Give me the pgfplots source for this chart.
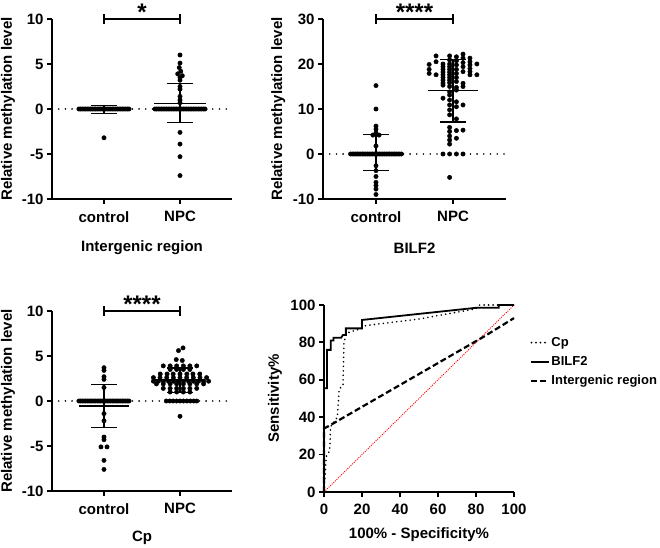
\documentclass[border=0pt]{standalone}
\usepackage{fontspec}
\setmainfont{Liberation Sans}
\usepackage{pgfplots}
\pgfplotsset{compat=1.18}
\newcommand\lbl{\bfseries\fontsize{15bp}{17bp}\selectfont}
\newcommand\leg{\bfseries\fontsize{13bp}{15bp}\selectfont}
\newcommand\stars{\bfseries\fontsize{24bp}{26bp}\selectfont}
\pgfplotsset{
 gpbase/.style={scale only axis, axis lines=left, axis line style={-, line width=1.8bp},
   every tick/.style={black, line width=1.8bp}, major tick length=5bp, tick align=outside,
   clip=false, /pgf/number format/assume math mode=true,
   tick label style={font=\lbl}, label style={font=\lbl}},
 dotplot/.style={gpbase, width=180bp, height=180bp, xmin=-0.684, xmax=1.684,
   xtick={0,1}, xticklabels={control,NPC}, ylabel={Relative methylation level},
   xticklabel style={yshift=-4bp},
   every axis y label/.style={at={(axis description cs:-0.244,0.5)}, rotate=90, anchor=center, font=\lbl},
   every axis x label/.style={at={(axis description cs:0.5,-0.272)}, anchor=center, font=\lbl}},
 dots/.style={only marks, mark=*, mark size=2.2bp, black, mark options={fill=black}},
 stat/.style={black, line width=1.6bp, forget plot},
 zero/.style={black, line width=1.8bp, dash pattern=on 0bp off 6.7bp, line cap=round, forget plot},
 brk/.style={black, line width=1.8bp, forget plot},
}
\begin{document}
\begin{tikzpicture}
\useasboundingbox (0,0) rectangle (660bp,548bp);
% ---------------- Panel 1: Intergenic region
\begin{axis}[dotplot, at={(52bp,349bp)}, anchor=south west, ymin=-10, ymax=10,
  ytick={-10,-5,0,5,10}, xlabel={Intergenic region}]
\addplot[zero] coordinates {(-0.684,0) (1.684,0)};
\addplot[dots] coordinates {
(-0.33,0) (-0.308,0) (-0.286,0) (-0.264,0) (-0.242,0) (-0.22,0) (-0.198,0) (-0.176,0) (-0.154,0) (-0.132,0) (-0.11,0) (-0.088,0) (-0.066,0) (-0.044,0) (-0.022,0) (0,0)
(0.022,0) (0.044,0) (0.066,0) (0.088,0) (0.11,0) (0.132,0) (0.154,0) (0.176,0) (0.198,0) (0.22,0) (0.242,0) (0.264,0) (0.286,0) (0.308,0) (0.33,0)
(0,-3.2)};
\addplot[dots] coordinates {
(0.67,0) (0.692,0) (0.714,0) (0.736,0) (0.758,0) (0.78,0) (0.802,0) (0.824,0) (0.846,0) (0.868,0) (0.89,0) (0.912,0) (0.934,0) (0.956,0) (0.978,0) (1,0)
(1.022,0) (1.044,0) (1.066,0) (1.088,0) (1.11,0) (1.132,0) (1.154,0) (1.176,0) (1.198,0) (1.22,0) (1.242,0) (1.264,0) (1.286,0) (1.308,0) (1.33,0)
(1,6.0) (1,5.1) (0.99,4.6) (1.01,4.2) (0.97,3.9) (1.03,3.7) (1,3.5) (1,3.2)
(1,2.5) (1,2.2) (1,1.4) (1,1.0) (1,0.7) (1,-2.6) (1,-3.9) (1,-5.3) (1,-7.4)};
% mean / SD
\addplot[stat] coordinates {(-0.33,0) (0.33,0)};
\addplot[stat] coordinates {(-0.165,0.4) (0.165,0.4)};
\addplot[stat] coordinates {(-0.165,-0.5) (0.165,-0.5)};
\addplot[stat] coordinates {(0,-0.5) (0,0.4)};
\addplot[stat] coordinates {(0.66,0.63) (1.34,0.63)};
\addplot[stat] coordinates {(0.825,2.85) (1.175,2.85)};
\addplot[stat] coordinates {(0.825,-1.5) (1.175,-1.5)};
\addplot[stat] coordinates {(1,-1.5) (1,2.85)};
% bracket
\addplot[brk] coordinates {(0,10) (1,10)};
\addplot[brk] coordinates {(0,9.45) (0,10.55)};
\addplot[brk] coordinates {(1,9.45) (1,10.55)};
\node[font=\stars, anchor=base, yshift=-1.5bp] at (axis cs:0.5,10) {*};
\end{axis}
% ---------------- Panel 2: BILF2
\begin{axis}[dotplot, at={(323bp,349bp)}, anchor=south west, width=183bp,
  xmin=-0.688, xmax=1.688, ymin=-10, ymax=30,
  ytick={-10,0,10,20,30}, xlabel={BILF2}]
\addplot[zero] coordinates {(-0.688,0) (1.688,0)};
\addplot[dots] coordinates {
(-0.33,0) (-0.308,0) (-0.286,0) (-0.264,0) (-0.242,0) (-0.22,0) (-0.198,0) (-0.176,0) (-0.154,0) (-0.132,0) (-0.11,0) (-0.088,0) (-0.066,0) (-0.044,0) (-0.022,0) (0,0)
(0.022,0) (0.044,0) (0.066,0) (0.088,0) (0.11,0) (0.132,0) (0.154,0) (0.176,0) (0.198,0) (0.22,0) (0.242,0) (0.264,0) (0.286,0) (0.308,0) (0.33,0)
(0,15.2) (0,10.0) (0,6.2) (0,5.5) (0,4.7) (-0.04,4.2) (0.04,4.2) (0,1.8)
(0,-2.6) (0,-3.7) (0,-5.0) (0,-6.3) (0,-7.0) (0,-7.8) (0,-9.0)};
\addplot[dots] coordinates {
(0.69,19.9) (0.69,18.8) (0.69,17.9)
(0.78,21.8) (0.78,20.5) (0.78,17.6)
(0.87,20.0) (0.87,19.4) (0.87,18.8) (0.87,18.2) (0.87,17.6) (0.87,17.0) (0.87,16.4) (0.87,15.8) (0.87,15.3) (0.87,12.4) (0.87,0)
(0.956,21.8) (0.956,20.9) (0.956,20.0) (0.956,19.4) (0.956,18.8) (0.956,18.2) (0.956,17.6) (0.956,17.0) (0.956,16.4) (0.956,15.8) (0.956,15.0) (0.956,13.8) (0.956,13.1) (0.956,12.0) (0.956,10.9) (0.956,9.8) (0.956,8.7) (0.956,5.9) (0.956,5.0) (0.956,4.0) (0.956,3.1) (0.956,2.2) (0.956,0) (0.956,-5.2)
(1.044,21.6) (1.044,20.7) (1.044,19.8) (1.044,18.8) (1.044,17.9) (1.044,17.0) (1.044,16.1) (1.044,14.8) (1.044,14.2) (1.044,11.6) (1.044,10.5) (1.044,7.8) (1.044,5.2) (1.044,3.5) (1.044,0)
(1.13,22.2) (1.13,21.3) (1.13,20.3) (1.13,19.4) (1.13,18.3) (1.13,15.7) (1.13,15.0) (1.13,10.9) (1.13,5.3) (1.13,0)
(1.22,21.3) (1.22,20.5) (1.22,19.8) (1.22,19.0) (1.22,18.3) (1.22,17.6)
(1.31,20.0) (1.31,17.6)};
\addplot[stat] coordinates {(-0.33,0.3) (0.33,0.3)};
\addplot[stat] coordinates {(-0.17,4.3) (0.17,4.3)};
\addplot[stat] coordinates {(-0.17,-3.7) (0.17,-3.7)};
\addplot[stat] coordinates {(0,-3.7) (0,4.3)};
\addplot[stat] coordinates {(0.67,14.1) (1.33,14.1)};
\addplot[stat] coordinates {(0.83,21.0) (1.17,21.0)};
\addplot[stat] coordinates {(0.83,7.1) (1.17,7.1)};
\addplot[stat] coordinates {(1,7.1) (1,21.0)};
\addplot[brk] coordinates {(0,30) (1,30)};
\addplot[brk] coordinates {(0,28.9) (0,31.1)};
\addplot[brk] coordinates {(1,28.9) (1,31.1)};
\node[font=\stars, anchor=base, yshift=-1.5bp] at (axis cs:0.5,30) {****};
\end{axis}
% ---------------- Panel 3: Cp
\begin{axis}[dotplot, at={(52bp,57bp)}, anchor=south west, ymin=-10, ymax=10,
  ytick={-10,-5,0,5,10}, xlabel={Cp},
  every axis x label/.style={at={(axis description cs:0.5,-0.261)}, anchor=center, font=\lbl}]
\addplot[zero] coordinates {(-0.684,0) (1.684,0)};
\addplot[dots] coordinates {
(-0.33,0) (-0.308,0) (-0.286,0) (-0.264,0) (-0.242,0) (-0.22,0) (-0.198,0) (-0.176,0) (-0.154,0) (-0.132,0) (-0.11,0) (-0.088,0) (-0.066,0) (-0.044,0) (-0.022,0) (0,0)
(0.022,0) (0.044,0) (0.066,0) (0.088,0) (0.11,0) (0.132,0) (0.154,0) (0.176,0) (0.198,0) (0.22,0) (0.242,0) (0.264,0) (0.286,0) (0.308,0) (0.33,0)
(0,3.7) (0,3.4) (0,2.7) (0,2.4) (0,1.5) (0,-1.4) (0,-2.2) (0,-4.0) (0,-4.3)
(-0.04,-5.1) (0.04,-5.1) (0,-6.6) (0,-7.6)};
\addplot[dots] coordinates {
(1.04,5.9) (0.98,5.6) (0.95,4.6) (1.03,4.5)
(0.78,3.9) (0.87,3.9) (0.956,3.9) (1.044,3.9) (1.13,3.9) (1.22,3.9)
(0.87,3.5) (0.956,3.5) (1.044,3.5) (1.13,3.5)
(0.74,3.0) (0.83,3.0) (0.91,3.0) (1.0,3.0) (1.09,3.0) (1.17,3.0) (1.26,3.0)
(0.65,2.6) (0.7375,2.6) (0.825,2.6) (0.9125,2.6) (1.0,2.6) (1.0875,2.6) (1.175,2.6) (1.2625,2.6) (1.35,2.6)
(0.65,2.2) (0.716,2.2) (0.782,2.2) (0.848,2.2) (0.914,2.2) (0.98,2.2) (1.046,2.2) (1.112,2.2) (1.178,2.2) (1.244,2.2) (1.31,2.2) (1.376,2.2)
(0.69,1.9) (0.78,1.9) (0.87,1.9) (0.956,1.9) (1.044,1.9) (1.13,1.9) (1.22,1.9) (1.31,1.9)
(0.78,1.4) (0.87,1.4) (0.956,1.4) (1.044,1.4) (1.13,1.4) (1.22,1.4)
(0.87,1.0) (0.956,1.0) (1.044,1.0) (1.13,1.0)
(0.82,0) (0.865,0) (0.91,0) (0.955,0) (1.0,0) (1.045,0) (1.09,0) (1.135,0) (1.18,0) (1.22,0)
(1,-1.7)};
\addplot[stat] coordinates {(-0.33,-0.55) (0.33,-0.55)};
\addplot[stat] coordinates {(-0.17,1.85) (0.17,1.85)};
\addplot[stat] coordinates {(-0.17,-2.95) (0.17,-2.95)};
\addplot[stat] coordinates {(0,-2.95) (0,1.85)};
\addplot[stat] coordinates {(0.67,2.3) (1.33,2.3)};
\addplot[stat] coordinates {(0.83,3.65) (1.17,3.65)};
\addplot[stat] coordinates {(0.83,0.95) (1.17,0.95)};
\addplot[stat] coordinates {(1,0.95) (1,3.65)};
\addplot[brk] coordinates {(0,10) (1,10)};
\addplot[brk] coordinates {(0,9.45) (0,10.55)};
\addplot[brk] coordinates {(1,9.45) (1,10.55)};
\node[font=\stars, anchor=base, yshift=-1.5bp] at (axis cs:0.5,10) {****};
\end{axis}
% ---------------- Panel 4: ROC
\begin{axis}[gpbase, at={(324bp,56bp)}, anchor=south west, width=190bp, height=187bp,
  xmin=0, xmax=100, ymin=0, ymax=100, xtick={0,20,...,100}, ytick={0,20,...,100},
  xlabel={100\% - Specificity\%}, ylabel={Sensitivity\%},
  xticklabel style={yshift=-4bp},
  every axis y label/.style={at={(axis description cs:-0.258,0.5)}, rotate=90, anchor=center, font=\lbl},
  every axis x label/.style={at={(axis description cs:0.5,-0.23)}, anchor=center, font=\lbl},
  legend style={at={(1.07,0.85)}, anchor=north west, draw=none, fill=none, font=\leg, row sep=4.5bp},
  legend image post style={line width=2bp},
  legend cell align=left]
\addplot[red, line width=0.9bp, dash pattern=on 1bp off 1.2bp, forget plot] coordinates {(0,0) (100,100)};
\addplot[black, line width=1.8bp, dash pattern=on 0bp off 4.5bp, line cap=round] coordinates {
(0,0) (0.5,8) (1.2,19) (3,22) (3.5,35) (7,40) (8,55) (10,57) (10.5,80) (12,85) (20,87.5) (22,89) (50,92.5) (80,98) (82,100) (100,100)};
\addlegendentry{Cp}
\addplot[black, line width=1.8bp] coordinates {
(0,0) (0,55.5) (1.6,55.5) (1.6,76) (3.5,76) (3.5,81) (5,81) (5,82.5) (9,82.5) (10,84) (11.5,84) (11.5,87.5) (20,87.5) (20,92) (80,98.5) (92,98.5) (92,100) (100,100)};
\addlegendentry{BILF2}
\addplot[black, line width=2.2bp, dash pattern=on 6bp off 3bp] coordinates {
(0,0) (0,34) (2,35) (8,38.5) (84,83) (100,93)};
\addlegendentry{Intergenic region}
\end{axis}
\end{tikzpicture}
\end{document}
